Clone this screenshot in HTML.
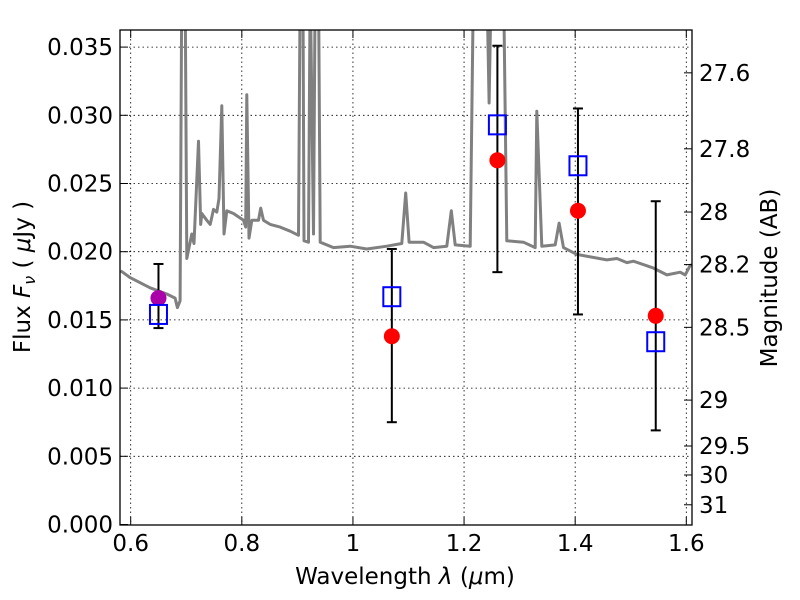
<!DOCTYPE html>
<html><head><meta charset="utf-8">
<style>
html,body{margin:0;padding:0;background:#fff;}
svg{display:block;font-family:"DejaVu Sans","Liberation Sans",sans-serif;}
</style></head>
<body>
<svg id="chart" width="800" height="600" viewBox="0 0 800 600">
  <rect x="0" y="0" width="800" height="600" fill="#fff"/>
  <defs><clipPath id="plotclip"><rect x="120" y="30" width="572" height="495"/></clipPath></defs>
  <g id="grid"></g>
  <g id="spec" clip-path="url(#plotclip)"></g>
  <g id="marks" clip-path="url(#plotclip)"></g>
  <rect x="120" y="30" width="572" height="495" fill="none" stroke="#000" stroke-width="1.3"/>
  <g id="axes"></g>
  <text x="405" y="584" font-size="23" text-anchor="middle">Wavelength  <tspan font-style="italic">λ</tspan> (<tspan font-style="italic">μ</tspan>m)</text>
  <text transform="translate(30,277) rotate(-90)" font-size="23" text-anchor="middle">Flux  <tspan font-style="italic">F</tspan><tspan font-style="italic" font-size="16" dy="5">ν</tspan><tspan dy="-5">  ( </tspan><tspan font-style="italic">μ</tspan>Jy )</text>
  <text transform="translate(777,278) rotate(-90)" font-size="23" text-anchor="middle">Magnitude (AB)</text>
</svg>
<script>
const xTicks=[0.6,0.8,1.0,1.2,1.4,1.6];
const xTickLabels=["0.6","0.8","1","1.2","1.4","1.6"];
const yTicks=[0,0.005,0.010,0.015,0.020,0.025,0.030,0.035];
const yTickLabels=["0.000","0.005","0.010","0.015","0.020","0.025","0.030","0.035"];
const magTicks=[27.6,27.8,28,28.2,28.5,29,29.5,30,31];
const magTickLabels=["27.6","27.8","28","28.2","28.5","29","29.5","30","31"];
const specWave=[0.582,0.599,0.635,0.665,0.68,0.684,0.689,0.692,0.698,0.701,0.71,0.714,0.722,0.726,0.728,0.737,0.743,0.749,0.755,0.759,0.764,0.768,0.773,0.785,0.803,0.807,0.809,0.813,0.818,0.830,0.834,0.839,0.851,0.869,0.887,0.902,0.905,0.910,0.912,0.920,0.923,0.929,0.932,0.938,0.941,0.965,0.995,1.025,1.061,1.088,1.095,1.101,1.127,1.145,1.169,1.177,1.184,1.211,1.217,1.241,1.245,1.249,1.271,1.277,1.307,1.328,1.331,1.340,1.364,1.371,1.379,1.403,1.457,1.475,1.493,1.505,1.541,1.565,1.589,1.598,1.607,1.63];
const specFlux=[0.0186,0.0181,0.01735,0.0169,0.0166,0.0159,0.0164,0.04,0.04,0.0195,0.0213,0.0206,0.0281,0.0220,0.0228,0.0223,0.0220,0.0231,0.0229,0.0239,0.0307,0.0213,0.0230,0.0228,0.0223,0.0218,0.0315,0.0210,0.0223,0.0223,0.0232,0.0223,0.0220,0.0218,0.0215,0.0212,0.04,0.04,0.0208,0.0207,0.04,0.0213,0.04,0.04,0.0207,0.0203,0.0204,0.0202,0.0204,0.0206,0.0243,0.0207,0.0207,0.0203,0.0204,0.0230,0.0205,0.0204,0.04,0.04,0.0309,0.04,0.04,0.0208,0.0207,0.0203,0.0303,0.0204,0.0205,0.0221,0.0203,0.0198,0.0194,0.0195,0.0192,0.0193,0.0188,0.0183,0.0185,0.0183,0.0190,0.0192];
const ptWave=[0.65,1.07,1.26,1.405,1.545];
const ptFlux=[0.0166,0.0138,0.0267,0.0230,0.0153];
const ptErrLow=[0.0144,0.0075,0.0185,0.0154,0.0069];
const ptErrHigh=[0.0191,0.0202,0.0351,0.0305,0.0237];
const ptColors=["#aa00aa","#ff0000","#ff0000","#ff0000","#ff0000"];
const modelFlux=[0.0154,0.0167,0.0293,0.0263,0.0134];

const NS="http://www.w3.org/2000/svg";
const X=w=>130.7+(w-0.6)*555.6;
const Y=v=>524.5-v*13640;
const magToFlux=m=>Math.pow(10,(23.9-m)/2.5);
function mk(tag,attrs,parent){const e=document.createElementNS(NS,tag);for(const k in attrs)e.setAttribute(k,attrs[k]);parent.appendChild(e);return e;}
const grid=document.getElementById('grid'),axes=document.getElementById('axes'),spec=document.getElementById('spec'),marks=document.getElementById('marks');

xTicks.forEach((t,i)=>{
  const x=X(t);
  const g=mk('line',{x1:x,x2:x,y1:30,y2:525,stroke:'#000','stroke-width':0.8,'stroke-dasharray':'1.5,3'},grid);
  
  
  const tk=mk('line',{x1:x,x2:x,y1:525,y2:517,stroke:'#000','stroke-width':1},axes);
  
  
  const tk2=mk('line',{x1:x,x2:x,y1:30,y2:38,stroke:'#000','stroke-width':1},axes);
  
  
  const tx=mk('text',{x:x,y:551,'font-size':23,'text-anchor':'middle'},axes);
  tx.textContent=xTickLabels[i];
  
  
});
yTicks.forEach((t,i)=>{
  const y=Y(t);
  if(t>0){const g=mk('line',{x1:120,x2:692,y1:y,y2:y,stroke:'#000','stroke-width':0.8,'stroke-dasharray':'1.5,3'},grid);
  
  }
  const tk=mk('line',{x1:120,x2:128,y1:y,y2:y,stroke:'#000','stroke-width':1},axes);
  
  
  const tx=mk('text',{x:113,y:y+8,'font-size':23,'text-anchor':'end'},axes);
  tx.textContent=yTickLabels[i];
  
  
});
magTicks.forEach((m,i)=>{
  const y=Y(magToFlux(m));
  const tk=mk('line',{x1:684,x2:692,y1:y,y2:y,stroke:'#000','stroke-width':1},axes);
  
  
  const tx=mk('text',{x:699,y:y+8,'font-size':23,'text-anchor':'start'},axes);
  tx.textContent=magTickLabels[i];
  
  
});
const d=specWave.map((w,i)=>(i?'L':'M')+X(w).toFixed(1)+','+Y(specFlux[i]).toFixed(1)).join(' ');
const sp=mk('path',{d:d,fill:'none',stroke:'#808080','stroke-width':3,'stroke-linejoin':'round'},spec);



ptWave.forEach((w,i)=>{
  const x=X(w);
  const eb=mk('line',{x1:x,x2:x,y1:Y(ptErrHigh[i]),y2:Y(ptErrLow[i]),stroke:'#000','stroke-width':2},marks);
  
  
  [ptErrHigh[i],ptErrLow[i]].forEach(v=>{
    const c=mk('line',{x1:x-5,x2:x+5,y1:Y(v),y2:Y(v),stroke:'#000','stroke-width':2},marks);
    
    
  });
});
ptWave.forEach((w,i)=>{
  const x=X(w);
  const c=mk('circle',{cx:x,cy:Y(ptFlux[i]),r:8,fill:ptColors[i]},marks);
  
  
  const s=mk('rect',{x:x-8.5,y:Y(modelFlux[i])-9.5,width:17,height:19,fill:'none',stroke:'#0000ff','stroke-width':2},marks);
  
  
});
</script>
</body></html>
